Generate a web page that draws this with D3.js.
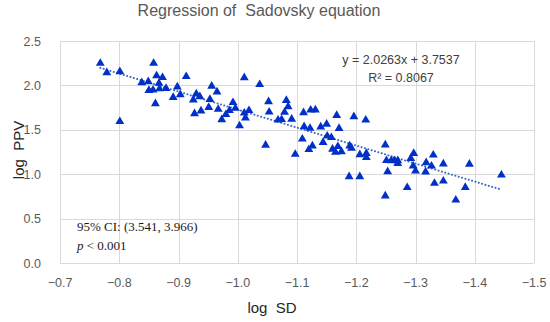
<!DOCTYPE html>
<html lang="en">
<head>
  <meta charset="UTF-8">
  <title>Regression of Sadovsky equation</title>
  <script src="https://d3js.org/d3.v7.min.js"></script>
  <style>
    html, body { margin: 0; padding: 0; background: #fff; }
    svg { display: block; }
    .grid line { stroke: #d9d9d9; stroke-width: 1px; shape-rendering: crispEdges; }
    .tick-label { font-family: "Liberation Sans", Arial, sans-serif; font-size: 12.5px; fill: #595959; }
    .title { font-family: "Liberation Sans", Arial, sans-serif; font-size: 16px; fill: #595959; white-space: pre; }
    .axis-title { font-family: "Liberation Sans", Arial, sans-serif; font-size: 15px; fill: #262626; white-space: pre; }
    .eq { font-family: "Liberation Sans", Arial, sans-serif; font-size: 12.5px; fill: #404040; }
    .note { font-family: "Liberation Serif", "Times New Roman", serif; font-size: 13px; fill: #1a1a1a; }
  </style>
</head>
<body>
  <svg width="550" height="322"></svg>
  <script>
    // log SD (x) and log PPV (y)
    const logSD = [
      -0.768, -0.779, -0.801, -0.801, -0.858, -0.863, -0.873, -0.913, -0.838, -0.849,
      -0.867, -0.850, -0.857, -0.868, -0.879, -0.861, -0.891, -0.898, -0.903, -0.956,
      -0.965, -0.930, -0.936, -0.925, -0.953, -0.951, -0.938, -0.927, -0.967, -0.973,
      -0.980, -0.986, -0.992, -0.996, -1.011, -1.037, -1.011, -1.019, -1.013, -1.003,
      -1.052, -1.053, -1.047, -1.082, -1.085, -1.079, -1.068, -1.074, -1.091, -1.097,
      -1.111, -1.123, -1.131, -1.112, -1.122, -1.140, -1.150, -1.167, -1.171, -1.196,
      -1.216, -1.109, -1.120, -1.126, -1.144, -1.151, -1.158, -1.160, -1.169, -1.175,
      -1.165, -1.189, -1.192, -1.206, -1.217, -1.217, -1.188, -1.206, -1.249, -1.251,
      -1.259, -1.270, -1.270, -1.253, -1.292, -1.297, -1.296, -1.300, -1.318, -1.330,
      -1.327, -1.317, -1.347, -1.391, -1.347, -1.332, -1.286, -1.249, -1.384, -1.368,
      -1.445, -1.264
    ];
    const logPPV = [
      2.249, 2.143, 2.154, 1.593, 2.249, 2.108, 2.089, 2.100, 2.030, 2.042,
      2.024, 1.943, 1.948, 1.962, 1.967, 1.794, 1.864, 1.984, 1.895, 1.991,
      1.926, 1.905, 1.873, 1.836, 1.843, 1.753, 1.712, 1.681, 1.731, 1.614,
      1.672, 1.717, 1.807, 1.742, 2.087, 2.010, 1.689, 1.717, 1.633, 1.545,
      1.816, 1.700, 1.327, 1.832, 1.760, 1.697, 1.610, 1.616, 1.619, 1.224,
      1.693, 1.723, 1.725, 1.535, 1.517, 1.532, 1.563, 1.663, 1.515, 1.648,
      1.610, 1.396, 1.278, 1.318, 1.359, 1.430, 1.413, 1.282, 1.312, 1.253,
      1.247, 1.318, 1.292, 1.220, 1.235, 1.188, 0.972, 0.972, 1.329, 1.154,
      1.152, 1.152, 1.120, 1.028, 1.177, 1.235, 1.092, 1.036, 1.130, 1.216,
      1.092, 1.025, 1.115, 1.113, 0.923, 0.898, 0.850, 0.755, 0.852, 0.709,
      0.991, 1.154
    ];
    const xTicks = [-0.7, -0.8, -0.9, -1.0, -1.1, -1.2, -1.3, -1.4, -1.5];
    const yTicks = [0.0, 0.5, 1.0, 1.5, 2.0, 2.5];
    const slope = 2.0263, intercept = 3.7537;
    const eqLines = ["y = 2.0263x + 3.7537", "R² = 0.8067"];

    const svg = d3.select("svg");
    const x = d3.scaleLinear().domain([-0.7, -1.5]).range([60, 534]);
    const y = d3.scaleLinear().domain([0, 2.5]).range([263, 41]);

    // grid
    const grid = svg.append("g").attr("class", "grid");
    grid.selectAll(".vx").data(xTicks).enter().append("line")
      .attr("x1", d => Math.round(x(d)) + 0.5).attr("x2", d => Math.round(x(d)) + 0.5)
      .attr("y1", y(2.5)).attr("y2", y(0));
    grid.selectAll(".hy").data(yTicks).enter().append("line")
      .attr("x1", x(-0.7)).attr("x2", x(-1.5))
      .attr("y1", d => Math.round(y(d)) + 0.5).attr("y2", d => Math.round(y(d)) + 0.5);

    // tick labels
    svg.append("g").selectAll("text").data(yTicks).enter().append("text")
      .attr("class", "tick-label")
      .attr("x", 41).attr("y", d => y(d) + 4.5)
      .attr("text-anchor", "end")
      .text(d => d3.format(".1f")(d));
    svg.append("g").selectAll("text").data(xTicks).enter().append("text")
      .attr("class", "tick-label")
      .attr("x", d => x(d)).attr("y", 287)
      .attr("text-anchor", "middle")
      .text(d => d3.format(".1f")(d));

    // trend line, over the data range
    const xr = d3.extent(logSD);
    svg.append("line")
      .attr("x1", x(xr[1])).attr("y1", y(slope * xr[1] + intercept))
      .attr("x2", x(xr[0])).attr("y2", y(slope * xr[0] + intercept))
      .attr("stroke", "#3a6bc6").attr("stroke-width", 2)
      .attr("stroke-dasharray", "0.1 3.4").attr("stroke-linecap", "round");

    // markers
    const tri = d3.symbol().type(d3.symbolTriangle).size(34);
    svg.append("g").selectAll("path").data(logSD).enter().append("path")
      .attr("d", tri)
      .attr("transform", (d, i) => `translate(${x(d)},${y(logPPV[i])})`)
      .attr("fill", "#0030c8");

    // titles
    svg.append("text").attr("class", "title")
      .attr("x", 259).attr("y", 16).attr("text-anchor", "middle")
      .text("Regression of  Sadovsky equation");
    svg.append("text").attr("class", "axis-title")
      .attr("x", 272).attr("y", 313).attr("text-anchor", "middle")
      .text("log  SD");
    svg.append("text").attr("class", "axis-title")
      .attr("transform", "translate(24,150) rotate(-90)").attr("text-anchor", "middle")
      .text("log  PPV");

    // equation
    svg.append("g").selectAll("text").data(eqLines).enter().append("text")
      .attr("class", "eq")
      .attr("x", 401).attr("y", (d, i) => 64 + i * 18)
      .attr("text-anchor", "middle")
      .text(d => d);

    // CI note
    svg.append("text").attr("class", "note")
      .attr("x", 77).attr("y", 231)
      .text("95% CI: (3.541, 3.966)");
    const pt = svg.append("text").attr("class", "note").attr("x", 77).attr("y", 250);
    pt.append("tspan").attr("font-style", "italic").text("p");
    pt.append("tspan").text(" < 0.001");
  </script>
</body>
</html>
